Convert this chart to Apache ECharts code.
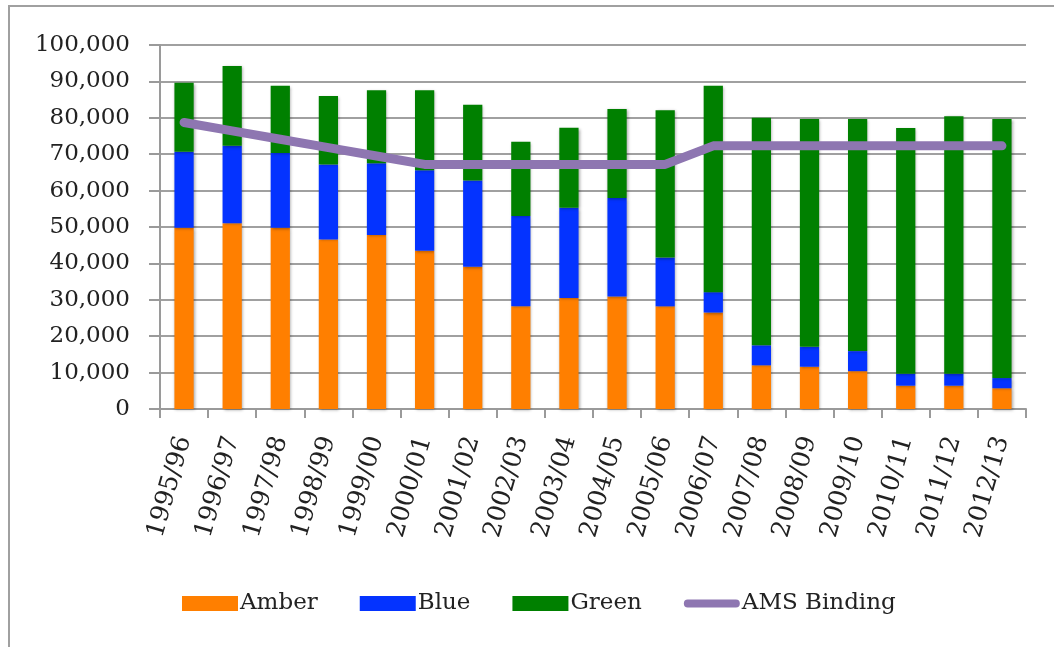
<!DOCTYPE html>
<html>
<head>
<meta charset="utf-8">
<script src="https://cdn.jsdelivr.net/npm/echarts@6/dist/echarts.min.js"></script>
<style>
html,body{margin:0;padding:0;background:#fff;}
#chart{width:1054px;height:647px;}
</style>
</head>
<body>
<div id="chart"></div>
<script>
var categories = ["1995/96","1996/97","1997/98","1998/99","1999/00","2000/01","2001/02","2002/03","2003/04","2004/05","2005/06","2006/07","2007/08","2008/09","2009/10","2010/11","2011/12","2012/13"];
var amber = [49800,51000,49800,46600,47800,43500,39100,28200,30500,30900,28200,26500,12000,11600,10400,6400,6400,5700];
var blue  = [20900,21300,20500,20600,19700,22100,23700,24800,24800,27100,13400,5600,5500,5500,5500,3300,3300,2800];
var green = [18900,21900,18500,18800,20100,22000,20800,20400,22000,24400,40500,56700,62500,62600,63800,67500,70700,71200];
var amsBinding = [78700,76400,74100,71800,69500,67200,67200,67200,67200,67200,67200,72300,72300,72300,72300,72300,72300,72300];
var yTicks = {min:0, max:100000, interval:10000};

var chart = echarts.init(document.getElementById('chart'), null, {renderer:'canvas'});
var fontFam = '"DejaVu Serif", "Liberation Serif", serif';
var barShadow = {shadowBlur:3, shadowColor:'rgba(0,0,0,0.35)', shadowOffsetX:1, shadowOffsetY:1};
function barSeries(name, data, color){
  return {
    name:name, type:'bar', stack:'total', data:data, barWidth:'40%',
    itemStyle:Object.assign({color:color}, barShadow)
  };
}
chart.setOption({
  animation:false,
  backgroundColor:'#fff',
  graphic:[
    {type:'polyline', shape:{points:[[9,647],[9,6],[1054,6]]}, style:{stroke:'#a0a0a0', lineWidth:2, fill:null}}
  ],
  grid:{left:160, right:28, top:45, bottom:238},
  legend:{
    left:177, top:587, itemWidth:56, itemHeight:15, itemGap:42,
    textStyle:{fontFamily:fontFam, fontSize:23, color:'#222', padding:[0,0,0,-3]},
    data:[
      {name:'Amber', icon:'rect'},
      {name:'Blue', icon:'rect'},
      {name:'Green', icon:'rect'},
      {name:'AMS Binding', icon:'path://M4.5,0 H60.5 A4.5,4.5 0 0 1 60.5,9 H4.5 A4.5,4.5 0 0 1 4.5,0 Z',
        itemStyle:{color:'#8e76b1', borderWidth:0}}
    ]
  },
  xAxis:{
    type:'category', data:categories,
    axisLine:{lineStyle:{color:'#9a9a9a', width:2}},
    axisTick:{show:true, length:9, lineStyle:{color:'#9a9a9a', width:2}},
    axisLabel:{rotate:74, margin:28, fontFamily:fontFam, fontSize:25, color:'#222', interval:0}
  },
  yAxis:{
    type:'value', min:yTicks.min, max:yTicks.max, interval:yTicks.interval,
    axisLine:{show:true, lineStyle:{color:'#9a9a9a', width:2}},
    axisTick:{show:true, inside:false, length:11, lineStyle:{color:'#9a9a9a', width:2}},
    splitLine:{lineStyle:{color:'#a0a0a0', width:2}},
    axisLabel:{margin:30, fontFamily:fontFam, fontSize:23, color:'#222',
      formatter:function(v){return v.toLocaleString('en-US');}}
  },
  series:[
    barSeries('Amber', amber, '#ff7f00'),
    barSeries('Blue', blue, '#0433ff'),
    barSeries('Green', green, '#008000'),
    {name:'AMS Binding', type:'line', data:amsBinding, symbol:'none', showSymbol:false,
      lineStyle:{color:'#8e76b1', width:9, cap:'round', join:'round'},
      itemStyle:{color:'#8e76b1'}, z:5}
  ]
});
</script>
</body>
</html>
